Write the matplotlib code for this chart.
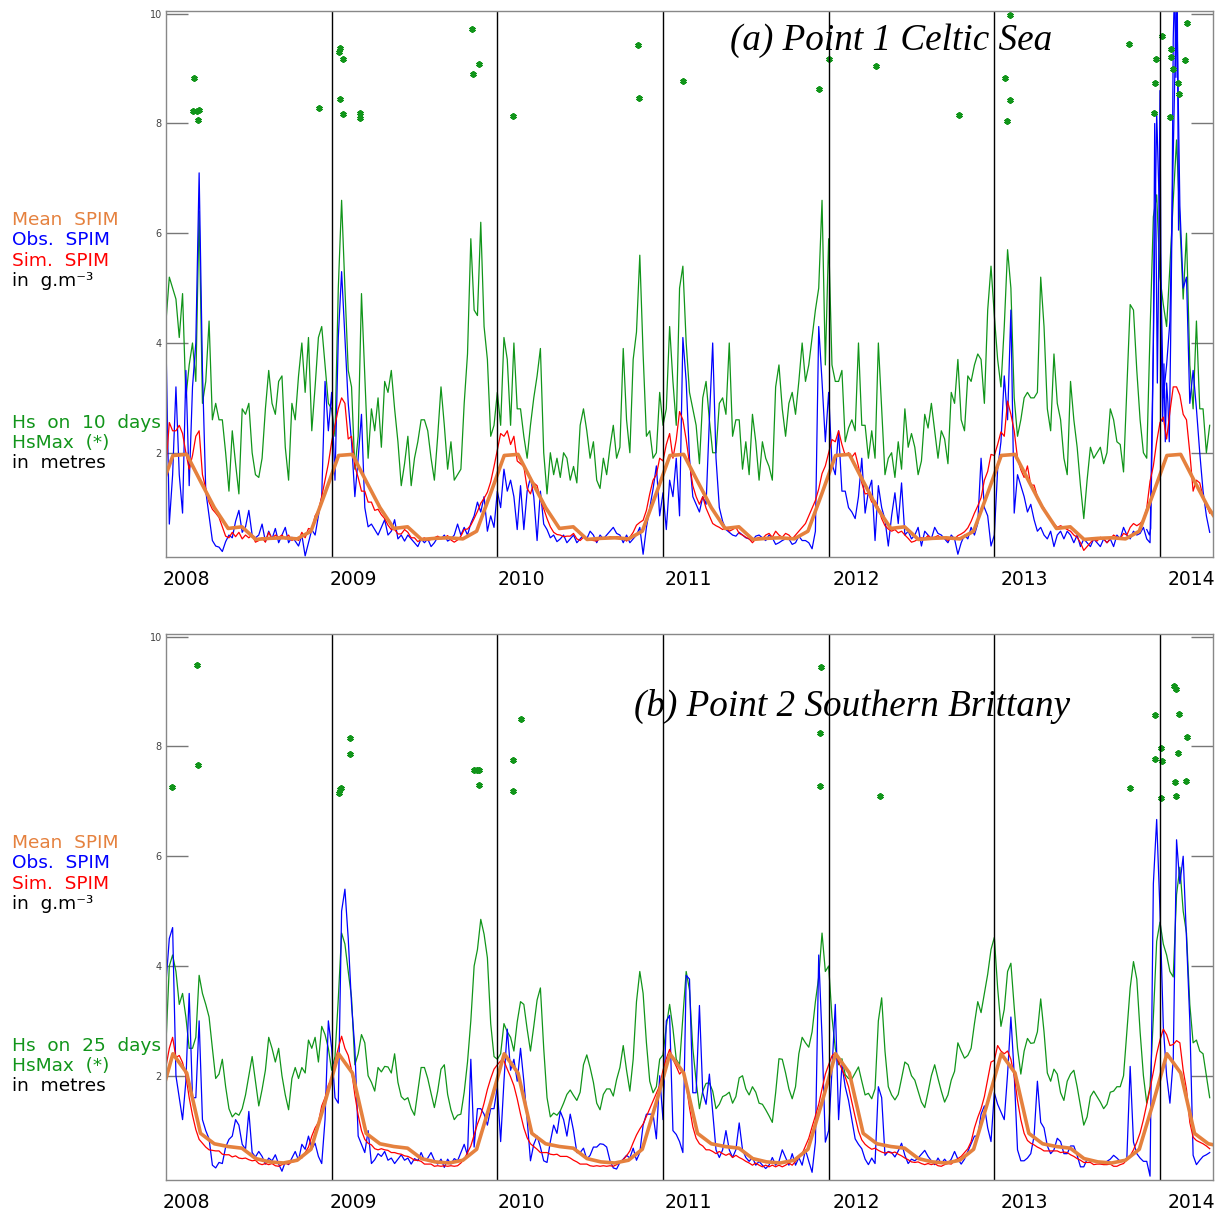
import numpy as np
import matplotlib
matplotlib.use("Agg")
import matplotlib.pyplot as plt
from matplotlib.transforms import blended_transform_factory

years = [2008, 2009, 2010, 2011, 2012, 2013, 2014]

# (a) Point 1 Celtic Sea
hs_a = [
    4.4, 5.2, 5.0, 4.8, 4.1, 4.9, 3.0, 3.6, 4.0, 3.3,
    6.4, 2.9, 3.3, 4.4, 2.6, 2.9, 2.6, 2.6, 2.0, 1.3,
    2.4, 1.8, 1.25, 2.8, 2.7, 2.9, 2.0, 1.6, 1.55, 1.9,
    2.8, 3.5, 2.9, 2.7, 3.3, 3.4, 2.1, 1.5, 2.9, 2.6,
    3.4, 4.0, 3.1, 4.1, 2.4, 3.2, 4.1, 4.3, 3.6, 2.9,
    2.8, 2.3, 5.0, 6.6, 5.0, 3.5, 3.2, 1.7, 2.3, 4.9,
    3.4, 1.9, 2.8, 2.4, 3.0, 2.1, 3.3, 3.1, 3.5, 2.8,
    2.2, 1.4, 1.8, 2.3, 1.4, 1.9, 2.2, 2.6, 2.6, 2.4,
    1.9, 1.5, 2.3, 3.2, 2.5, 1.7, 2.2, 1.5, 1.6, 1.7,
    2.9, 3.8, 5.9, 4.6, 4.5, 6.2, 4.3, 3.7, 2.3, 2.5,
    3.1, 2.5, 4.1, 3.7, 2.5, 4.0, 2.8, 2.8, 2.3, 1.9,
    2.5, 3.0, 3.4, 3.9, 2.0, 1.25, 2.0, 1.6, 1.9, 1.55,
    2.0, 1.9, 1.5, 1.75, 1.45, 2.5, 2.8, 2.4, 1.9, 2.2,
    1.5, 1.35, 1.9, 1.6, 2.1, 2.5, 1.9, 2.1, 3.9, 2.6,
    2.0, 3.7, 4.2, 5.6, 3.8, 2.3, 2.4, 1.9, 2.0, 3.1,
    2.5, 2.8, 4.3, 3.3, 2.5, 5.0, 5.4, 4.0, 3.1, 2.8,
    2.5, 1.8, 3.0, 3.3, 2.6, 2.0, 2.0, 2.9, 3.0, 2.7,
    4.0, 2.3, 2.6, 2.6, 1.7, 2.2, 1.6, 2.7, 2.2, 1.5,
    2.2, 1.9, 1.75, 1.5, 3.2, 3.6, 2.8, 2.3, 2.9, 3.1,
    2.7, 3.3, 4.0, 3.3, 3.6, 4.1, 4.6, 5.0, 6.6, 3.6,
    5.9, 3.6, 3.3, 3.3, 3.5, 2.2, 2.45, 2.6, 2.4, 4.0,
    2.5, 2.5, 1.9, 2.4, 1.9, 4.0, 2.8, 1.6, 1.9, 2.0,
    1.55, 2.2, 1.7, 2.8, 2.1, 2.35, 2.1, 1.6, 1.85, 2.7,
    2.45, 2.9, 2.4, 1.9, 2.4, 2.25, 1.8, 3.1, 2.9, 3.7,
    2.6, 2.4, 3.4, 3.3, 3.6, 3.8, 3.7, 2.9, 4.6, 5.4,
    4.5, 3.7, 3.2, 4.3, 5.7, 5.0, 3.0, 2.3, 2.6, 3.0,
    3.1, 3.0, 3.0, 3.1, 5.2, 4.3, 2.8, 2.4, 3.8, 2.9,
    2.6, 1.9, 1.6, 3.3, 2.6, 2.1, 1.4, 0.8, 1.5, 2.1,
    1.9, 2.0, 2.1, 1.8, 2.0, 2.8, 2.6, 2.2, 2.15, 1.65,
    3.2, 4.7, 4.6, 3.5, 2.6, 2.0, 1.9, 4.2, 6.3, 6.7,
    5.2, 4.7, 4.3, 5.4, 6.6, 7.7, 6.2, 4.8, 6.0, 3.6, 2.8, 4.4, 2.8, 2.8, 2.0, 2.5,
]

obs_a = [
    4.0, 0.7, 1.6, 3.2, 1.6, 0.9, 3.5, 1.4, 3.2, 4.0,
    7.1, 3.5, 1.3, 0.85, 0.4, 0.3, 0.28, 0.2, 0.38, 0.5,
    0.45, 0.75, 0.95, 0.55, 0.65, 0.95, 0.5, 0.45, 0.5, 0.7,
    0.38, 0.57, 0.43, 0.62, 0.36, 0.5, 0.64, 0.36, 0.46, 0.39,
    0.3, 0.5, 0.12, 0.36, 0.6, 0.5, 0.85, 1.2, 3.3, 2.4,
    3.1, 1.5, 4.1, 5.3, 4.1, 2.9, 2.2, 1.2, 1.9, 2.7,
    1.0, 0.65, 0.7, 0.6, 0.5, 0.64, 0.78, 0.5, 0.57, 0.78,
    0.43, 0.5, 0.39, 0.5, 0.43, 0.36, 0.29, 0.43, 0.36, 0.43,
    0.29, 0.36, 0.46, 0.43, 0.5, 0.39, 0.43, 0.5, 0.7, 0.5,
    0.64, 0.5, 0.71, 0.85, 1.1, 0.92, 1.2, 0.57, 0.85, 0.64,
    1.3, 1.0, 1.7, 1.3, 1.5, 1.2, 0.6, 1.4, 0.6, 1.3,
    1.55, 1.2, 0.4, 1.3, 0.7, 0.6, 0.45, 0.5, 0.38, 0.43,
    0.5, 0.36, 0.43, 0.5, 0.36, 0.43, 0.5, 0.43, 0.57, 0.5,
    0.36, 0.5, 0.43, 0.5, 0.57, 0.64, 0.53, 0.5, 0.36, 0.5,
    0.36, 0.43, 0.5, 0.64, 0.15, 0.64, 0.99, 1.34, 1.76, 0.85,
    1.27, 0.6, 1.5, 1.2, 1.9, 0.85, 4.1, 3.3, 1.9, 1.2,
    1.06, 0.92, 1.2, 1.06, 2.6, 4.0, 1.9, 1.0, 0.75, 0.6,
    0.55, 0.5, 0.48, 0.55, 0.5, 0.45, 0.43, 0.4, 0.48, 0.5,
    0.45, 0.4, 0.5, 0.45, 0.33, 0.36, 0.4, 0.43, 0.43, 0.33,
    0.36, 0.48, 0.4, 0.4, 0.36, 0.25, 0.57, 4.3, 3.3, 2.2,
    3.1, 1.8, 1.6, 2.4, 1.3, 1.3, 1.0, 0.92, 0.8, 1.2,
    1.9, 0.9, 1.3, 1.5, 0.4, 1.4, 1.0, 0.78, 0.3, 0.85,
    1.27, 0.71, 1.45, 0.5, 0.57, 0.43, 0.5, 0.64, 0.3, 0.57,
    0.5, 0.43, 0.64, 0.53, 0.5, 0.43, 0.36, 0.5, 0.43, 0.15,
    0.36, 0.5, 0.43, 0.64, 0.5, 0.71, 1.9, 1.0, 0.85, 0.3,
    0.5, 1.7, 2.2, 3.4, 2.6, 4.6, 0.9, 1.6, 1.4, 1.2,
    0.92, 1.06, 0.78, 0.57, 0.64, 0.5, 0.43, 0.57, 0.29, 0.5,
    0.57, 0.43, 0.57, 0.5, 0.36, 0.5, 0.29, 0.43, 0.36, 0.29,
    0.43, 0.36, 0.29, 0.43, 0.36, 0.43, 0.29, 0.5, 0.43, 0.64,
    0.5, 0.43, 0.57, 0.5, 0.53, 0.64, 0.43, 0.36, 4.0, 8.2,
    6.0, 3.0, 3.6, 4.4, 7.5, 10.5, 6.5, 5.0, 5.2, 2.9, 3.5, 2.8, 2.0, 1.3, 0.85, 0.55,
]

# winter 2013-2014 storm burst, sampled every 0.008 year from 2013.92
obs_a_burst = [0.6, 0.55, 0.5, 0.62, 2.15, 3.97, 8.0, 6.0, 3.27, 5.36,
               8.6, 3.97, 2.57, 3.62, 2.2, 3.27, 2.9, 2.2, 3.97, 6.06,
               9.54, 10.5, 8.84, 10.5, 6.06]

sim_a = [
    1.76, 2.55, 2.4, 2.4, 2.5, 2.35, 2.0, 1.7, 1.95, 2.3,
    2.4, 1.6, 1.35, 1.1, 0.97, 0.9, 0.82, 0.65, 0.48, 0.45,
    0.55, 0.47, 0.55, 0.43, 0.5, 0.45, 0.5, 0.37, 0.4, 0.45,
    0.37, 0.55, 0.43, 0.5, 0.46, 0.5, 0.43, 0.5, 0.4, 0.45,
    0.4, 0.55, 0.45, 0.62, 0.6, 0.85, 0.95, 1.2, 1.5, 1.8,
    2.2, 2.5, 2.8, 3.0, 2.9, 2.25, 2.3, 1.75, 1.55, 1.3,
    1.3, 1.1, 1.1, 0.95, 0.97, 0.87, 0.8, 0.68, 0.6, 0.6,
    0.52, 0.52, 0.6, 0.55, 0.45, 0.45, 0.38, 0.42, 0.45, 0.4,
    0.42, 0.45, 0.48, 0.44, 0.45, 0.49, 0.41, 0.37, 0.41, 0.48,
    0.6, 0.61, 0.68, 0.8, 0.93, 1.08, 1.17, 1.28, 1.47, 1.75,
    2.05, 2.35, 2.3, 2.4, 2.15, 2.3, 1.85, 1.8, 1.75, 1.35,
    1.25, 1.45, 1.4, 1.15, 0.98, 0.8, 0.65, 0.55, 0.51, 0.5,
    0.47, 0.48, 0.48, 0.53, 0.43, 0.4, 0.46, 0.45, 0.41, 0.4,
    0.39, 0.44, 0.43, 0.44, 0.47, 0.46, 0.47, 0.46, 0.45, 0.39,
    0.46, 0.55, 0.68, 0.73, 0.77, 0.95, 1.25, 1.5, 1.6, 1.9,
    1.85, 2.15, 2.35, 1.9, 2.24, 2.75, 2.6, 2.24, 1.8, 1.4,
    1.2, 1.06, 1.2, 0.99, 0.85, 0.71, 0.67, 0.64, 0.6, 0.64,
    0.57, 0.6, 0.64, 0.53, 0.5, 0.46, 0.43, 0.36, 0.43, 0.46,
    0.43, 0.5, 0.53, 0.46, 0.57, 0.5, 0.46, 0.53, 0.5, 0.43,
    0.5, 0.57, 0.64, 0.71, 0.85, 0.99, 1.13, 1.34, 1.62, 1.76,
    2.0, 2.24, 2.2, 2.4, 2.15, 1.95, 2.0, 1.92, 2.0, 1.75,
    1.45, 1.25, 1.26, 1.1, 1.12, 1.0, 0.8, 0.67, 0.61, 0.57,
    0.6, 0.54, 0.57, 0.5, 0.44, 0.37, 0.39, 0.43, 0.45, 0.43,
    0.49, 0.44, 0.46, 0.49, 0.44, 0.46, 0.4, 0.45, 0.43, 0.49,
    0.52, 0.56, 0.63, 0.75, 0.9, 1.03, 1.18, 1.5, 1.66, 1.97,
    1.95, 2.15, 2.38, 2.3, 2.94, 2.7, 2.4, 1.9, 1.69, 1.55,
    1.76, 1.41, 1.41, 1.2, 1.06, 0.99, 0.85, 0.78, 0.71, 0.64,
    0.67, 0.64, 0.6, 0.57, 0.5, 0.46, 0.36, 0.22, 0.29, 0.36,
    0.43, 0.39, 0.46, 0.43, 0.36, 0.43, 0.5, 0.46, 0.43, 0.53,
    0.5, 0.64, 0.71, 0.67, 0.71, 0.78, 0.99, 1.48, 1.76, 2.2,
    2.55, 2.65, 2.25, 2.75, 3.2, 3.2, 3.05, 2.7, 2.6, 2.0, 1.3, 1.5, 1.45, 1.2, 1.05, 0.9,
]

# mean SPIM: monthly climatology (mid-month values, Jan..Dec)
mean_a = [1.95, 1.97, 1.48, 1.0, 0.62, 0.65, 0.42, 0.44, 0.45, 0.43, 0.57, 1.25]

hsmax_a_t = [2008.171, 2008.165, 2008.185, 2008.201, 2008.195, 2008.924,
             2009.044, 2009.048, 2009.068, 2009.052, 2009.068, 2009.173, 2009.169,
             2009.845, 2009.851, 2009.892, 2010.092, 2010.851, 2010.855,
             2011.12, 2011.944, 2012.004, 2012.285, 2012.787,
             2013.094, 2013.066, 2013.094, 2013.074, 2013.813,
             2014.01, 2013.978, 2013.97, 2013.962, 2014.064, 2014.068,
             2014.078, 2014.11, 2014.114, 2014.062, 2014.153, 2014.161]
hsmax_a = [8.82, 8.22, 8.22, 8.24, 8.06, 8.28,
           9.31, 9.38, 9.17, 8.45, 8.17, 8.19, 8.1,
           9.73, 8.9, 9.08, 8.13, 9.43, 8.47,
           8.78, 8.62, 9.17, 9.05, 8.15,
           9.97, 8.83, 8.43, 8.05, 9.45,
           9.59, 9.17, 8.73, 8.19, 9.36, 9.22,
           8.99, 8.73, 8.54, 8.12, 9.15, 9.83]

# (b) Point 2 Southern Brittany
hs_b = [
    2.6, 4.0, 4.2, 3.9, 3.3, 3.5, 3.07, 2.5, 2.5, 2.7,
    3.83, 3.5, 3.3, 3.07, 2.5, 1.95, 2.03, 2.3, 1.8, 1.4,
    1.25, 1.32, 1.28, 1.4, 1.65, 2.0, 2.35, 1.9, 1.45, 1.75,
    2.1, 2.7, 2.5, 2.25, 2.5, 2.0, 1.65, 1.38, 1.95, 2.15,
    1.95, 2.15, 2.05, 2.65, 2.5, 2.7, 2.25, 2.9, 2.75, 2.5,
    2.1, 2.35, 3.4, 4.6, 4.4, 3.9, 3.42, 2.2, 2.4, 2.75,
    2.6, 2.0, 1.88, 1.72, 2.15, 2.07, 2.17, 2.16, 2.05, 2.4,
    1.88, 1.62, 1.56, 1.6, 1.4, 1.28, 1.72, 2.15, 2.15, 1.95,
    1.68, 1.42, 1.72, 2.12, 2.2, 1.66, 1.38, 1.2, 1.28, 1.3,
    1.7, 2.25, 3.0, 4.0, 4.3, 4.85, 4.58, 4.15, 2.95, 2.35,
    2.3, 2.4, 2.95, 2.8, 2.7, 2.45, 2.98, 3.35, 3.3, 2.85,
    2.45, 2.9, 3.38, 3.6, 2.5, 1.6, 1.25, 1.32, 1.28, 1.36,
    1.5, 1.66, 1.74, 1.64, 1.55, 1.7, 2.2, 2.38, 2.15, 1.88,
    1.5, 1.38, 1.66, 1.76, 1.76, 1.63, 1.93, 2.15, 2.55, 2.1,
    1.72, 2.3, 3.35, 3.9, 3.5, 2.6, 1.9, 1.69, 1.8, 2.3,
    2.38, 2.9, 3.3, 2.86, 2.3, 2.2, 3.07, 3.9, 3.56, 2.5,
    1.9, 1.4, 1.72, 1.86, 1.87, 1.72, 1.4, 1.48, 1.62, 1.65,
    1.7, 1.5, 1.62, 1.96, 2.0, 1.76, 1.65, 1.8, 1.7, 1.5,
    1.48, 1.38, 1.27, 1.15, 1.69, 2.31, 2.3, 2.05, 1.76, 1.58,
    1.8, 2.4, 2.7, 2.6, 2.52, 2.8, 3.35, 3.8, 4.6, 3.9,
    4.0, 3.07, 2.5, 2.2, 2.31, 2.02, 1.95, 1.94, 2.05, 2.16,
    1.9, 1.65, 1.68, 1.58, 1.76, 3.0, 3.42, 2.45, 1.8, 1.65,
    1.56, 1.66, 1.95, 2.25, 2.2, 2.0, 1.92, 1.72, 1.52, 1.42,
    1.7, 2.0, 2.2, 1.95, 1.72, 1.52, 1.65, 1.92, 2.08, 2.6,
    2.45, 2.32, 2.37, 2.5, 2.95, 3.35, 3.15, 3.5, 3.85, 4.3,
    4.52, 3.6, 2.9, 3.21, 3.9, 4.05, 3.25, 2.5, 2.03, 2.45,
    2.68, 2.59, 2.6, 2.8, 3.4, 2.8, 2.05, 1.9, 2.12, 2.03,
    1.69, 1.55, 1.9, 2.03, 2.1, 1.8, 1.45, 1.1, 1.25, 1.62,
    1.72, 1.62, 1.52, 1.4, 1.48, 1.7, 1.72, 1.8, 1.8, 2.0,
    2.8, 3.6, 4.08, 3.76, 2.8, 2.0, 1.5, 1.8, 3.07, 4.45,
    4.8, 4.4, 4.2, 3.9, 3.8, 5.3, 5.8, 5.0, 4.6, 3.3, 2.6, 2.65, 2.45, 2.4, 2.0, 1.6,
]

obs_b = [
    3.7, 4.5, 4.7, 2.0, 1.6, 1.2, 1.9, 3.5, 1.6, 1.6,
    3.0, 1.2, 1.0, 0.85, 0.37, 0.32, 0.42, 0.4, 0.7, 0.84,
    0.9, 1.2, 1.1, 0.75, 0.66, 1.35, 0.6, 0.52, 0.62, 0.53,
    0.39, 0.5, 0.45, 0.56, 0.39, 0.26, 0.43, 0.38, 0.5, 0.62,
    0.46, 0.75, 0.66, 0.9, 0.67, 0.77, 0.53, 0.4, 1.2, 3.0,
    2.5, 1.6, 1.5, 5.0, 5.4, 4.5, 3.3, 2.5, 0.9, 0.75,
    0.6, 1.0, 0.4, 0.47, 0.58, 0.53, 0.62, 0.46, 0.5, 0.4,
    0.48, 0.56, 0.46, 0.5, 0.39, 0.49, 0.45, 0.6, 0.46, 0.5,
    0.6, 0.46, 0.39, 0.48, 0.33, 0.48, 0.39, 0.49, 0.45, 0.6,
    0.75, 0.55, 2.3, 0.7, 1.4, 1.4, 1.3, 1.1, 1.4, 1.4,
    1.8, 0.8, 1.9, 2.85, 2.1, 2.3, 1.9, 2.5, 1.9, 1.2,
    0.45, 0.75, 0.9, 0.7, 0.45, 0.42, 0.8, 1.1, 0.95, 1.35,
    1.2, 0.9, 1.3, 1.0, 0.6, 0.6, 0.68, 0.48, 0.55, 0.7,
    0.7, 0.76, 0.75, 0.7, 0.45, 0.32, 0.3, 0.42, 0.48, 0.55,
    0.5, 0.68, 0.46, 0.6, 1.1, 1.3, 1.3, 1.3, 0.85, 2.0,
    1.2, 3.0, 3.1, 1.0, 0.93, 0.8, 0.6, 3.83, 3.76, 1.69,
    1.69, 3.28, 1.69, 1.48, 2.03, 1.34, 0.65, 0.51, 0.65, 1.0,
    0.65, 0.51, 0.65, 1.14, 0.65, 0.51, 0.44, 0.51, 0.37, 0.44,
    0.37, 0.31, 0.37, 0.51, 0.37, 0.44, 0.65, 0.51, 0.37, 0.58,
    0.37, 0.51, 0.37, 0.65, 0.44, 0.24, 0.79, 4.2, 2.7, 0.79,
    1.0, 2.1, 3.3, 1.2, 2.2, 1.8, 1.55, 1.2, 0.85, 0.75,
    0.67, 0.48, 0.38, 0.5, 0.4, 1.8, 1.6, 0.55, 0.62, 0.6,
    0.52, 0.63, 0.77, 0.55, 0.4, 0.48, 0.45, 0.5, 0.57, 0.64,
    0.53, 0.45, 0.38, 0.5, 0.4, 0.48, 0.4, 0.48, 0.62, 0.48,
    0.39, 0.48, 0.62, 0.76, 0.9, 0.9, 1.3, 1.45, 1.05, 0.8,
    1.69, 1.48, 1.34, 1.2, 2.03, 3.07, 2.03, 0.65, 0.45, 0.45,
    0.5, 0.58, 0.9, 1.9, 1.15, 1.05, 0.72, 0.58, 0.65, 0.86,
    0.8, 0.58, 0.58, 0.72, 0.72, 0.55, 0.34, 0.34, 0.48, 0.44,
    0.44, 0.44, 0.4, 0.4, 0.44, 0.48, 0.55, 0.5, 0.44, 0.44,
    0.5, 2.17, 0.79, 0.58, 0.5, 0.44, 0.44, 0.17, 5.5, 6.67,
    5.0, 2.9, 2.0, 1.5, 2.3, 6.3, 5.5, 6.0, 4.5, 3.0, 0.55, 0.38, 0.46, 0.53, 0.56, 0.6,
]

sim_b = [
    2.17, 2.5, 2.7, 2.33, 2.37, 2.24, 2.0, 1.6, 1.28, 1.02,
    0.84, 0.77, 0.7, 0.65, 0.64, 0.63, 0.63, 0.57, 0.56, 0.56,
    0.52, 0.54, 0.5, 0.49, 0.5, 0.47, 0.45, 0.46, 0.4, 0.38,
    0.4, 0.38, 0.4, 0.36, 0.35, 0.38, 0.4, 0.39, 0.43, 0.44,
    0.5, 0.5, 0.6, 0.7, 0.9, 1.05, 1.15, 1.45, 1.6, 1.83,
    1.95, 2.25, 2.5, 2.72, 2.5, 2.37, 2.1, 1.65, 1.28, 1.0,
    0.84, 0.77, 0.74, 0.67, 0.65, 0.67, 0.65, 0.64, 0.6, 0.6,
    0.58, 0.57, 0.54, 0.53, 0.5, 0.46, 0.46, 0.44, 0.39, 0.39,
    0.39, 0.35, 0.36, 0.35, 0.36, 0.35, 0.36, 0.35, 0.36, 0.41,
    0.48, 0.6, 0.72, 0.92, 1.12, 1.28, 1.5, 1.75, 1.95, 2.12,
    2.2, 2.27, 2.27, 2.12, 1.98, 1.82, 1.58, 1.3, 1.05, 0.87,
    0.76, 0.71, 0.66, 0.6, 0.6, 0.6, 0.57, 0.56, 0.57, 0.53,
    0.53, 0.53, 0.5, 0.46, 0.43, 0.39, 0.39, 0.39, 0.36, 0.35,
    0.36, 0.35, 0.36, 0.35, 0.36, 0.35, 0.38, 0.42, 0.47, 0.54,
    0.63, 0.78, 0.92, 1.03, 1.12, 1.26, 1.4, 1.54, 1.68, 1.82,
    2.1, 2.31, 2.48, 2.3, 2.17, 2.03, 2.1, 1.85, 1.42, 1.07,
    0.86, 0.76, 0.72, 0.65, 0.65, 0.62, 0.58, 0.62, 0.58, 0.55,
    0.58, 0.51, 0.55, 0.51, 0.48, 0.44, 0.41, 0.37, 0.41, 0.37,
    0.34, 0.37, 0.34, 0.37, 0.34, 0.37, 0.34, 0.37, 0.41, 0.37,
    0.44, 0.51, 0.58, 0.72, 0.86, 1.07, 1.27, 1.48, 1.76, 2.03,
    2.2, 2.36, 2.42, 2.25, 2.12, 1.98, 1.8, 1.52, 1.25, 0.99,
    0.83, 0.75, 0.7, 0.66, 0.68, 0.64, 0.61, 0.59, 0.61, 0.59,
    0.61, 0.57, 0.54, 0.5, 0.47, 0.43, 0.42, 0.43, 0.4, 0.38,
    0.4, 0.38, 0.4, 0.36, 0.35, 0.38, 0.4, 0.39, 0.45, 0.49,
    0.53, 0.6, 0.67, 0.8, 1.05, 1.24, 1.4, 1.62, 1.93, 2.25,
    2.28, 2.55, 2.45, 2.4, 2.45, 2.3, 2.0, 1.55, 1.2, 0.95,
    0.82, 0.77, 0.74, 0.7, 0.67, 0.63, 0.63, 0.63, 0.63, 0.63,
    0.6, 0.61, 0.6, 0.56, 0.53, 0.49, 0.46, 0.42, 0.42, 0.42,
    0.38, 0.39, 0.39, 0.38, 0.38, 0.39, 0.35, 0.35, 0.38, 0.4,
    0.47, 0.54, 0.65, 0.79, 0.96, 1.2, 1.48, 1.76, 2.07, 2.4,
    2.65, 2.85, 2.75, 2.55, 2.57, 2.64, 2.6, 2.1, 1.75, 1.15, 0.88, 0.82, 0.79, 0.76, 0.72, 0.67,
]

mean_b = [2.4, 2.05, 0.95, 0.76, 0.71, 0.68, 0.49, 0.43, 0.41, 0.46, 0.66, 1.5]

hsmax_b_t = [2008.038, 2008.189, 2008.193,
             2009.044, 2009.052, 2009.058, 2009.112, 2009.108,
             2009.861, 2009.876, 2009.892, 2009.892,
             2010.092, 2010.096, 2010.145,
             2011.954, 2011.95, 2011.946, 2012.311,
             2013.817, 2013.97, 2013.968, 2014.008, 2014.01, 2014.004,
             2014.084, 2014.094, 2014.114, 2014.161, 2014.11, 2014.09,
             2014.094, 2014.155]
hsmax_b = [7.27, 9.49, 7.66,
           7.15, 7.22, 7.25, 8.15, 7.87,
           7.57, 7.57, 7.58, 7.3,
           7.19, 7.75, 8.5,
           9.45, 8.24, 7.28, 7.1,
           7.24, 8.57, 7.77, 7.98, 7.74, 7.07,
           9.1, 9.05, 8.59, 8.17, 7.89, 7.35,
           7.1, 7.38]

GREEN = '#11951a'
BLUE = '#0000ff'
RED = '#ff0000'
ORANGE = '#e5813e'
W, H = 1227, 1214


def grid(vals, start=2008.0, step=0.02):
    return start + step * np.arange(len(vals))


def climatology(month_vals):
    tt, vv = [], []
    for yr in range(2007, 2015):
        for m in range(12):
            tt.append(yr + (m + 0.5) / 12)
            vv.append(month_vals[m])
    return tt, vv


def panel(ax, hs, obs, sim, mean_m, tmax, vmax, title, tx, ty, burst=None):
    ax.plot(grid(hs), hs, color=GREEN, lw=0.9)
    ax.plot(grid(obs), obs, color=BLUE, lw=0.9)
    if burst is not None:
        ax.plot(grid(burst, 2013.92, 0.008), burst, color=BLUE, lw=0.9)
    ax.plot(grid(sim), sim, color=RED, lw=0.9)
    tm, vm = climatology(mean_m)
    ax.plot(tm, vm, color=ORANGE, lw=2.6)
    ax.plot(tmax, vmax, ls='none', marker=(6, 2, 0), ms=4.5, mew=1.5, color=GREEN)
    for y in years[1:]:
        ax.axvline(y, color='black', lw=1.0)
    ax.set_xlim(2008.0, 2014.32)
    ax.set_ylim(0.1, 10.05)
    ax.set_xticks([])
    ax.set_yticks([2, 4, 6, 8, 10])
    ax.set_yticklabels(['2', '4', '6', '8', '10'])
    ax.tick_params(axis='y', direction='in', length=16, width=1, color='#777777',
                   right=True, labelsize=7, labelcolor='#444444', pad=3)
    for s in ax.spines.values():
        s.set_color('#888888')
        s.set_linewidth(1.0)
    trans = blended_transform_factory(ax.transData, ax.transAxes)
    for i, y in enumerate(years):
        ax.text(y + 0.12 + 0.012 * i, -0.042, str(y), transform=trans,
                ha='center', va='center', fontsize=13.5)
    ax.text(tx, ty, title, transform=ax.transAxes, ha='center', va='center',
            fontsize=26.7, family='Liberation Serif', style='italic')


fig = plt.figure(figsize=(W / 100, H / 100), dpi=100)
ax1 = fig.add_axes([166 / W, 1 - 557 / H, 1047 / W, 546 / H])
ax2 = fig.add_axes([166 / W, 1 - 1180 / H, 1047 / W, 546 / H])

panel(ax1, hs_a, obs_a, sim_a, mean_a, hsmax_a_t, hsmax_a,
      '(a) Point 1 Celtic Sea', 0.6925, 0.945, burst=obs_a_burst)
panel(ax2, hs_b, obs_b, sim_b, mean_b, hsmax_b_t, hsmax_b,
      '(b) Point 2 Southern Brittany', 0.655, 0.868)

# side labels
for y0, days in [(0, '10'), (623, '25')]:
    rows = [
        (220, 'Mean  SPIM', ORANGE),
        (240, 'Obs.  SPIM', BLUE),
        (261, 'Sim.  SPIM', RED),
        (281, 'in  g.m\u207b\u00b3', 'black'),
        (423, 'Hs  on  ' + days + '  days', GREEN),
        (443, 'HsMax  (*)', GREEN),
        (463, 'in  metres', 'black'),
    ]
    for yp, txt, col in rows:
        fig.text(12 / W, 1 - (yp + y0) / H, txt, color=col, fontsize=13.3,
                 ha='left', va='center')

fig.savefig('out.png', dpi=100)
